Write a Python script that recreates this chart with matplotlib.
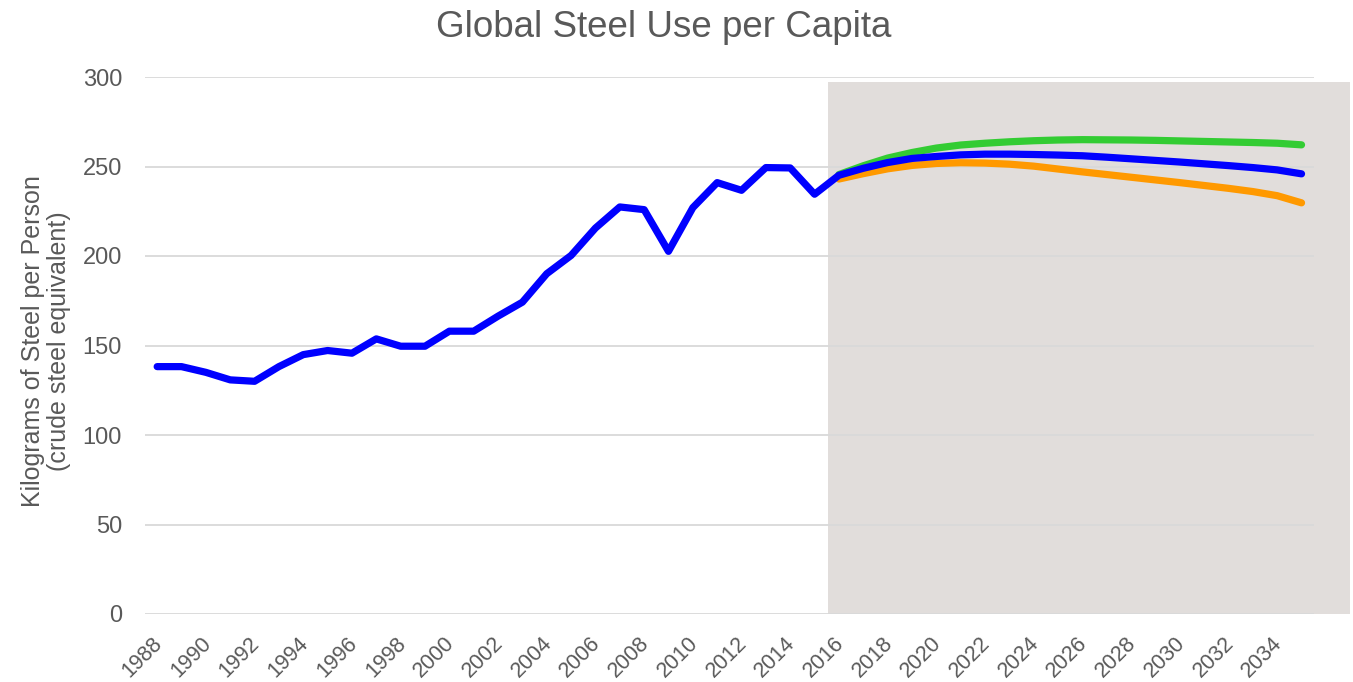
import matplotlib
matplotlib.use("Agg")
import matplotlib.pyplot as plt
from matplotlib.patches import Rectangle
from matplotlib.transforms import ScaledTranslation

plt.rcParams["font.family"] = ["Liberation Sans", "DejaVu Sans"]

# historical world steel use per capita (kg), 1988-2015
hist_years = list(range(1988, 2016))
hist_values = [138.2, 138.2, 135.0, 130.8, 130.0, 138.2, 144.9, 147.2, 145.7, 153.7,
               149.6, 149.6, 158.0, 158.0, 166.4, 174.2, 190.1, 200.3, 215.6, 227.4,
               225.9, 202.6, 227.0, 241.0, 236.7, 249.4, 249.2, 234.5]

# projection scenarios, 2016-2035
proj_years = list(range(2016, 2036))
proj_high = [245.5, 250.4, 254.7, 257.8, 260.3, 262.0, 263.0, 263.8, 264.4, 264.8,
             265.0, 264.9, 264.8, 264.6, 264.3, 264.0, 263.7, 263.4, 263.0, 262.1]
proj_base = [245.1, 249.0, 252.2, 254.5, 255.6, 256.5, 256.9, 256.9, 256.7, 256.4,
             256.0, 255.2, 254.3, 253.4, 252.5, 251.5, 250.5, 249.4, 248.1, 245.9]
proj_low = [243.0, 246.0, 248.7, 250.6, 251.7, 252.1, 251.9, 251.3, 250.2, 248.6,
            247.0, 245.5, 244.0, 242.5, 241.0, 239.4, 237.8, 236.0, 233.7, 229.7]

tick_years = list(range(1988, 2035, 2))

# shaded forecast window (data coordinates)
shade_x = (2015.54, 2037.0)
shade_top = 297.1

GRAY = "#595959"

fig = plt.figure(figsize=(13.53, 6.82), dpi=100)
ax = fig.add_axes([145 / 1353, 1 - 614 / 682, (1313.7 - 145) / 1353, (614 - 77) / 682])

ax.add_patch(Rectangle((shade_x[0], 0), shade_x[1] - shade_x[0], shade_top,
                       facecolor="#e1dddb", edgecolor="none", clip_on=False, zorder=0))

line_kw = dict(linewidth=5.2, solid_capstyle="round", solid_joinstyle="round", zorder=3)
ax.plot(proj_years, proj_high, color="#33cc33", **line_kw)
ax.plot(proj_years, proj_low, color="#ff9900", **line_kw)
ax.plot(hist_years + proj_years, hist_values + proj_base, color="#0000ff", **line_kw)

ax.set_xlim(1987.5, 2035.5)
ax.set_ylim(0, 300)
ax.set_yticks(range(0, 301, 50))
ax.set_xticks(tick_years)
ax.set_xticklabels([str(y) for y in tick_years], rotation=45, ha="right", va="center",
                   rotation_mode="anchor")
ax.tick_params(axis="both", length=0, labelcolor=GRAY)
ax.tick_params(axis="y", pad=16.5, labelsize=17)
ax.tick_params(axis="x", pad=19, labelsize=15.5)
shift = ScaledTranslation(0.02, 0, fig.dpi_scale_trans)
for lbl in ax.get_xticklabels():
    lbl.set_transform(lbl.get_transform() + shift)

ax.grid(axis="y", color="#d9d9d9", linewidth=1.3, zorder=1)
ax.set_axisbelow(False)
for s in ax.spines.values():
    s.set_visible(False)

fig.text(46 / 1353, 1 - 341 / 682, "Kilograms of Steel per Person\n(crude steel equivalent)",
         fontsize=18, color=GRAY, rotation=90, ha="center", va="center",
         multialignment="center", linespacing=1.15)

fig.text(664 / 1353, 1 - 37 / 682, "Global Steel Use per Capita", fontsize=26.5,
         color=GRAY, ha="center", va="baseline")

fig.savefig("out.png", dpi=100)
